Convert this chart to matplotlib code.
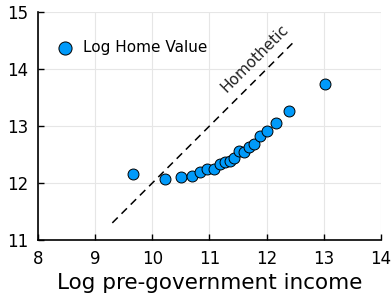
import matplotlib
matplotlib.use("Agg")
import matplotlib.pyplot as plt
import numpy as np

# Log pre-government income vs log home value
log_income = [9.67, 10.23, 10.50, 10.69, 10.83, 10.95, 11.07, 11.18, 11.27, 11.36,
              11.43, 11.52, 11.60, 11.69, 11.78, 11.88, 12.00, 12.16, 12.39, 13.02]
log_home_value = [12.15, 12.07, 12.10, 12.13, 12.20, 12.25, 12.25, 12.33, 12.37, 12.39,
                  12.44, 12.57, 12.54, 12.64, 12.69, 12.82, 12.91, 13.06, 13.27, 13.74]

# homothetic reference line: slope 1
homothetic_x = [9.3, 12.45]
homothetic_offset = 2.0

fig = plt.figure(figsize=(3.91, 2.94), dpi=100)
ax = fig.add_axes([38 / 391, 54 / 294, 343 / 391, 228 / 294])

ax.grid(True, color="#e6e6e6", linewidth=0.8)
ax.set_axisbelow(True)

hx = np.array(homothetic_x)
ax.plot(hx, hx + homothetic_offset, color="black", linestyle=(0, (5, 3.5)), linewidth=1.1)

ax.scatter(log_income, log_home_value, s=62, color="#009afa", edgecolor="black",
           linewidth=0.7, zorder=3, label="Log Home Value")

ax.text(11.8, 14.18, "Homothetic", rotation=45, ha="center", va="center",
        fontsize=11, color="#222222", rotation_mode="anchor")

ax.set_xlim(8, 14)
ax.set_ylim(11, 15)
ax.set_xticks(range(8, 15))
ax.set_yticks(range(11, 16))
ax.tick_params(direction="in", length=4, width=1, labelsize=12, colors="black")
ax.tick_params(axis="x", pad=7)
ax.tick_params(axis="y", pad=7)
for side in ["top", "right"]:
    ax.spines[side].set_visible(False)
for side in ["left", "bottom"]:
    ax.spines[side].set_linewidth(1.2)

ax.set_xlabel("Log pre-government income", fontsize=15.5, labelpad=4)

ax.legend(loc="upper left", frameon=False, fontsize=11, handletextpad=0.2,
          markerscale=1.2, borderaxespad=0.0, bbox_to_anchor=(0.015, 0.905))

fig.savefig("out.png", dpi=100)
